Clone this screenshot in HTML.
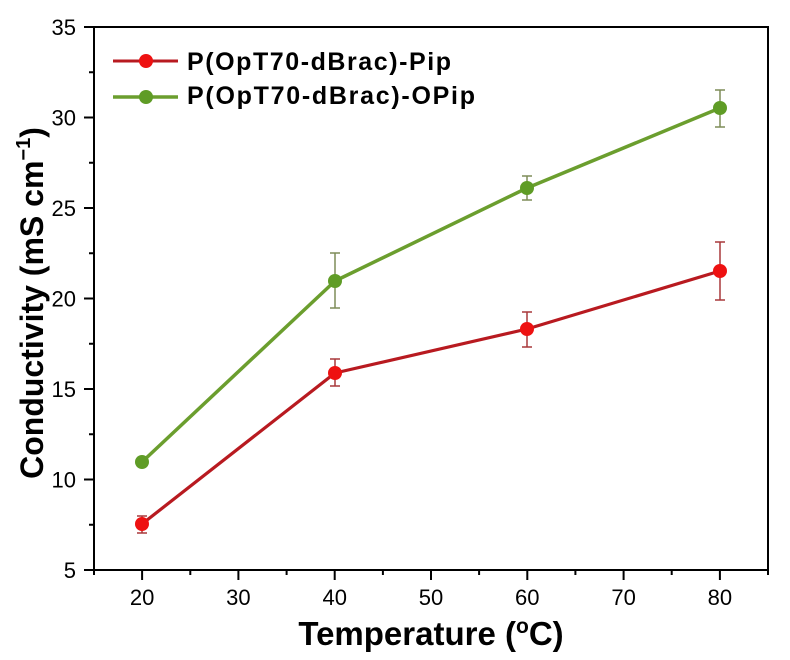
<!DOCTYPE html>
<html>
<head>
<meta charset="utf-8">
<style>
  html, body { margin:0; padding:0; background:#fff; }
  svg { display:block; }
  text { font-family: "Liberation Sans", Arial, sans-serif; fill:#000; }
</style>
</head>
<body>
<svg width="790" height="660" viewBox="0 0 790 660" xmlns="http://www.w3.org/2000/svg">
  <rect width="790" height="660" fill="#fff"/>

  <!-- axes frame -->
  <g stroke="#000" stroke-width="2" fill="none" stroke-linecap="square">
    <line x1="94" y1="27" x2="768" y2="27"/>
    <line x1="768" y1="27" x2="768" y2="570"/>
    <line x1="94" y1="27" x2="94" y2="570"/>
    <line x1="94" y1="570" x2="768" y2="570"/>
  </g>

  <!-- y ticks -->
  <g stroke="#000" stroke-width="2">
    <line x1="84" y1="27" x2="94" y2="27"/>
    <line x1="84" y1="117.5" x2="94" y2="117.5"/>
    <line x1="84" y1="208" x2="94" y2="208"/>
    <line x1="84" y1="298.5" x2="94" y2="298.5"/>
    <line x1="84" y1="389" x2="94" y2="389"/>
    <line x1="84" y1="479.5" x2="94" y2="479.5"/>
    <line x1="84" y1="570" x2="94" y2="570"/>
    <line x1="89" y1="72.25" x2="94" y2="72.25"/>
    <line x1="89" y1="162.75" x2="94" y2="162.75"/>
    <line x1="89" y1="253.25" x2="94" y2="253.25"/>
    <line x1="89" y1="343.75" x2="94" y2="343.75"/>
    <line x1="89" y1="434.25" x2="94" y2="434.25"/>
    <line x1="89" y1="524.75" x2="94" y2="524.75"/>
  </g>

  <!-- x ticks -->
  <g stroke="#000" stroke-width="2">
    <line x1="142.1" y1="570" x2="142.1" y2="580"/>
    <line x1="238.4" y1="570" x2="238.4" y2="580"/>
    <line x1="334.7" y1="570" x2="334.7" y2="580"/>
    <line x1="431" y1="570" x2="431" y2="580"/>
    <line x1="527.3" y1="570" x2="527.3" y2="580"/>
    <line x1="623.6" y1="570" x2="623.6" y2="580"/>
    <line x1="719.9" y1="570" x2="719.9" y2="580"/>
    <line x1="94" y1="570" x2="94" y2="575"/>
    <line x1="190.3" y1="570" x2="190.3" y2="575"/>
    <line x1="286.6" y1="570" x2="286.6" y2="575"/>
    <line x1="382.9" y1="570" x2="382.9" y2="575"/>
    <line x1="479.1" y1="570" x2="479.1" y2="575"/>
    <line x1="575.4" y1="570" x2="575.4" y2="575"/>
    <line x1="671.7" y1="570" x2="671.7" y2="575"/>
    <line x1="768" y1="570" x2="768" y2="575"/>
  </g>

  <!-- y tick labels -->
  <g font-size="22" text-anchor="end">
    <text x="76" y="35">35</text>
    <text x="76" y="125.5">30</text>
    <text x="76" y="216">25</text>
    <text x="76" y="306.5">20</text>
    <text x="76" y="397">15</text>
    <text x="76" y="487.5">10</text>
    <text x="76" y="578">5</text>
  </g>

  <!-- x tick labels -->
  <g font-size="22" text-anchor="middle">
    <text x="142.1" y="605">20</text>
    <text x="238.4" y="605">30</text>
    <text x="334.7" y="605">40</text>
    <text x="431" y="605">50</text>
    <text x="527.3" y="605">60</text>
    <text x="623.6" y="605">70</text>
    <text x="719.9" y="605">80</text>
  </g>

  <!-- axis titles -->
  <text x="431" y="645" font-size="33" font-weight="bold" text-anchor="middle">Temperature (<tspan font-size="21" dy="-12">o</tspan><tspan dy="12">C)</tspan></text>
  <text transform="translate(43,303) rotate(-90)" font-size="32" font-weight="bold" text-anchor="middle">Conductivity (mS cm<tspan font-size="20" dy="-13">−1</tspan><tspan dy="13">)</tspan></text>

  <!-- error bars green -->
  <g stroke="#7e8c58" stroke-width="1.5">
    <line x1="335" y1="253" x2="335" y2="308"/>
    <line x1="330" y1="253" x2="340" y2="253"/>
    <line x1="330" y1="308" x2="340" y2="308"/>
    <line x1="527" y1="176" x2="527" y2="200"/>
    <line x1="522" y1="176" x2="532" y2="176"/>
    <line x1="522" y1="200" x2="532" y2="200"/>
    <line x1="720" y1="90" x2="720" y2="127"/>
    <line x1="715" y1="90" x2="725" y2="90"/>
    <line x1="715" y1="127" x2="725" y2="127"/>
  </g>
  <!-- error bars red -->
  <g stroke="#a8383a" stroke-width="1.5">
    <line x1="142" y1="516" x2="142" y2="533"/>
    <line x1="137" y1="516" x2="147" y2="516"/>
    <line x1="137" y1="533" x2="147" y2="533"/>
    <line x1="335" y1="359" x2="335" y2="386"/>
    <line x1="330" y1="359" x2="340" y2="359"/>
    <line x1="330" y1="386" x2="340" y2="386"/>
    <line x1="527" y1="312" x2="527" y2="347"/>
    <line x1="522" y1="312" x2="532" y2="312"/>
    <line x1="522" y1="347" x2="532" y2="347"/>
    <line x1="720" y1="242" x2="720" y2="300"/>
    <line x1="715" y1="242" x2="725" y2="242"/>
    <line x1="715" y1="300" x2="725" y2="300"/>
  </g>

  <!-- series lines -->
  <polyline points="142,462 335,281 527,188 720,108" fill="none" stroke="#6b9e2e" stroke-width="3.5" stroke-linejoin="round"/>
  <polyline points="142,524 335,373 527,329 720,271" fill="none" stroke="#b81a20" stroke-width="3.2" stroke-linejoin="round"/>

  <!-- markers -->
  <g fill="#5f9c26">
    <circle cx="142" cy="462" r="7"/>
    <circle cx="335" cy="281" r="7"/>
    <circle cx="527" cy="188" r="7"/>
    <circle cx="720" cy="108" r="7"/>
  </g>
  <g fill="#ee1111">
    <circle cx="142" cy="524" r="7"/>
    <circle cx="335" cy="373" r="7"/>
    <circle cx="527" cy="329" r="7"/>
    <circle cx="720" cy="271" r="7"/>
  </g>

  <!-- legend -->
  <line x1="113" y1="61" x2="178" y2="61" stroke="#b81a20" stroke-width="3"/>
  <circle cx="146" cy="61" r="7" fill="#ee1111"/>
  <line x1="113" y1="97" x2="178" y2="97" stroke="#6b9e2e" stroke-width="3.5"/>
  <circle cx="146" cy="97" r="7" fill="#5f9c26"/>
  <text x="187" y="70" font-size="25" font-weight="bold" textLength="264" lengthAdjust="spacing">P(OpT70-dBrac)-Pip</text>
  <text x="187" y="104" font-size="25" font-weight="bold" textLength="288" lengthAdjust="spacing">P(OpT70-dBrac)-OPip</text>
</svg>
</body>
</html>
